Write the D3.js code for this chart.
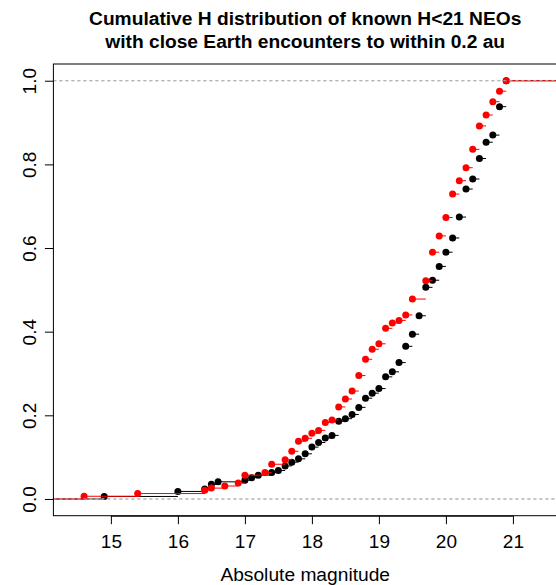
<!DOCTYPE html>
<html>
<head>
<meta charset="utf-8">
<script src="https://cdn.jsdelivr.net/npm/d3@7"></script>
<style>
  body { margin: 0; background: #fff; }
  svg { display: block; font-family: "Liberation Sans", Arial, sans-serif; }
</style>
</head>
<body>
<svg width="556" height="585"></svg>
<script>
// ecdf knots (H value, cumulative fraction)
const blackH = [14.9, 16.0, 16.4, 16.5, 16.6, 17.0, 17.1, 17.2, 17.4, 17.5, 17.6, 17.7, 17.8, 17.9,
    18.0, 18.1, 18.2, 18.3, 18.4, 18.5, 18.6, 18.7, 18.8, 18.9, 19.0, 19.1, 19.2, 19.3, 19.4,
    19.5, 19.6, 19.7, 19.8, 19.9, 20.0, 20.1, 20.2, 20.3, 20.4, 20.5, 20.6, 20.7, 20.8, 20.9];
const blackF = [0.006, 0.018, 0.024, 0.035, 0.041, 0.045, 0.051, 0.057, 0.063, 0.068, 0.079, 0.088, 0.096, 0.108,
    0.124, 0.135, 0.146, 0.152, 0.186, 0.192, 0.202, 0.219, 0.241, 0.253, 0.264, 0.292, 0.304, 0.326, 0.365,
    0.394, 0.438, 0.506, 0.523, 0.556, 0.590, 0.624, 0.674, 0.741, 0.765, 0.814, 0.853, 0.870, 0.938, 1.0];

const redH = [14.6, 15.4, 16.4, 16.5, 16.7, 16.9, 17.0, 17.3, 17.4, 17.6, 17.7, 17.8, 17.9, 18.0,
    18.1, 18.2, 18.3, 18.4, 18.5, 18.6, 18.7, 18.8, 18.9, 19.0, 19.1, 19.2, 19.3, 19.4, 19.5,
    19.7, 19.8, 19.9, 20.0, 20.1, 20.2, 20.3, 20.4, 20.5, 20.6, 20.7, 20.8, 20.9];
const redF = [0.0065, 0.013, 0.021, 0.026, 0.031, 0.038, 0.057, 0.063, 0.083, 0.094, 0.114, 0.138, 0.145, 0.157,
    0.164, 0.183, 0.189, 0.220, 0.239, 0.258, 0.295, 0.334, 0.358, 0.371, 0.408, 0.421, 0.427, 0.440, 0.478,
    0.522, 0.590, 0.629, 0.673, 0.729, 0.761, 0.792, 0.836, 0.892, 0.918, 0.950, 0.975, 1.0];

const xTicks = [15, 16, 17, 18, 19, 20, 21];
const yTicks = [0, 0.2, 0.4, 0.6, 0.8, 1.0];
const titleLines = ["Cumulative H distribution of known H<21 NEOs",
    "with close Earth encounters to within 0.2 au"];
const xLabel = "Absolute magnitude";

let svg = d3.select("svg");
let plot = { left: 53.4, right: 557, top: 64, bottom: 515.7 };

let x = d3.scaleLinear().domain([14.142, 21.658]).range([plot.left, plot.right]);
let y = d3.scaleLinear().domain([-0.04, 1.04]).range([plot.bottom, plot.top]);

svg.append("defs").append("clipPath").attr("id", "clip")
    .append("rect")
    .attr("x", plot.left).attr("y", plot.top)
    .attr("width", plot.right - plot.left).attr("height", plot.bottom - plot.top);

let g = svg.append("g").attr("clip-path", "url(#clip)");

function refLines() {
    g.append("g")
        .selectAll("line")
        .data([0, 1])
        .enter()
        .append("line")
        .attr("x1", plot.left).attr("x2", plot.right)
        .attr("y1", d => y(d)).attr("y2", d => y(d))
        .attr("stroke", "#b3b3b3")
        .attr("stroke-dasharray", "3,3");
}

function drawEcdf(hs, fs, color) {
    let lo = x.domain()[0] - 1, hi = x.domain()[1] + 1;
    let steps = [{ x0: lo, x1: hs[0], f: 0 }];
    hs.forEach(function (h, i) {
        steps.push({ x0: h, x1: i < hs.length - 1 ? hs[i + 1] : hi, f: fs[i] });
    });
    g.append("g")
        .selectAll("line")
        .data(steps)
        .enter()
        .append("line")
        .attr("x1", d => x(d.x0)).attr("x2", d => x(d.x1))
        .attr("y1", d => y(d.f)).attr("y2", d => y(d.f))
        .attr("stroke", color)
        .attr("stroke-width", 1);
    g.append("g")
        .selectAll("circle")
        .data(hs)
        .enter()
        .append("circle")
        .attr("cx", d => x(d))
        .attr("cy", (d, i) => y(fs[i]))
        .attr("r", 3.5)
        .attr("fill", color);
}

drawEcdf(blackH, blackF, "#000000");
refLines();
drawEcdf(redH, redF, "#ff0000");
refLines();

// frame
svg.append("rect")
    .attr("x", plot.left).attr("y", plot.top)
    .attr("width", plot.right - plot.left).attr("height", plot.bottom - plot.top)
    .attr("fill", "none").attr("stroke", "#000");

let xAxis = svg.append("g")
    .attr("transform", "translate(0," + plot.bottom + ")")
    .call(d3.axisBottom(x).tickValues(xTicks).tickSize(8.5).tickSizeOuter(0).tickFormat(d3.format("d")));
xAxis.select(".domain").attr("d", "M" + x(15) + ",0.5H" + x(21));
xAxis.selectAll("text").attr("font-size", "19px").attr("font-family", null).attr("dy", null).attr("y", 32);

let yAxis = svg.append("g")
    .attr("transform", "translate(" + plot.left + ",0)")
    .call(d3.axisLeft(y).tickValues(yTicks).tickSize(8.5).tickSizeOuter(0).tickFormat(d3.format(".1f")));
yAxis.select(".domain").remove();
yAxis.selectAll("text")
    .attr("font-size", "19px").attr("font-family", null)
    .attr("x", null).attr("dy", null)
    .attr("text-anchor", "middle")
    .attr("transform", "translate(-17.5,0) rotate(-90)");

svg.selectAll(".tick line").attr("stroke", "#000");

svg.append("g")
    .selectAll("text")
    .data(titleLines)
    .enter()
    .append("text")
    .attr("x", (plot.left + plot.right) / 2)
    .attr("y", (d, i) => 24.5 + i * 23)
    .attr("text-anchor", "middle")
    .attr("font-weight", "bold")
    .attr("font-size", "19.2px")
    .text(d => d);

svg.append("text")
    .attr("x", (plot.left + plot.right) / 2)
    .attr("y", 581)
    .attr("text-anchor", "middle")
    .attr("font-size", "19.2px")
    .text(xLabel);
</script>
</body>
</html>
